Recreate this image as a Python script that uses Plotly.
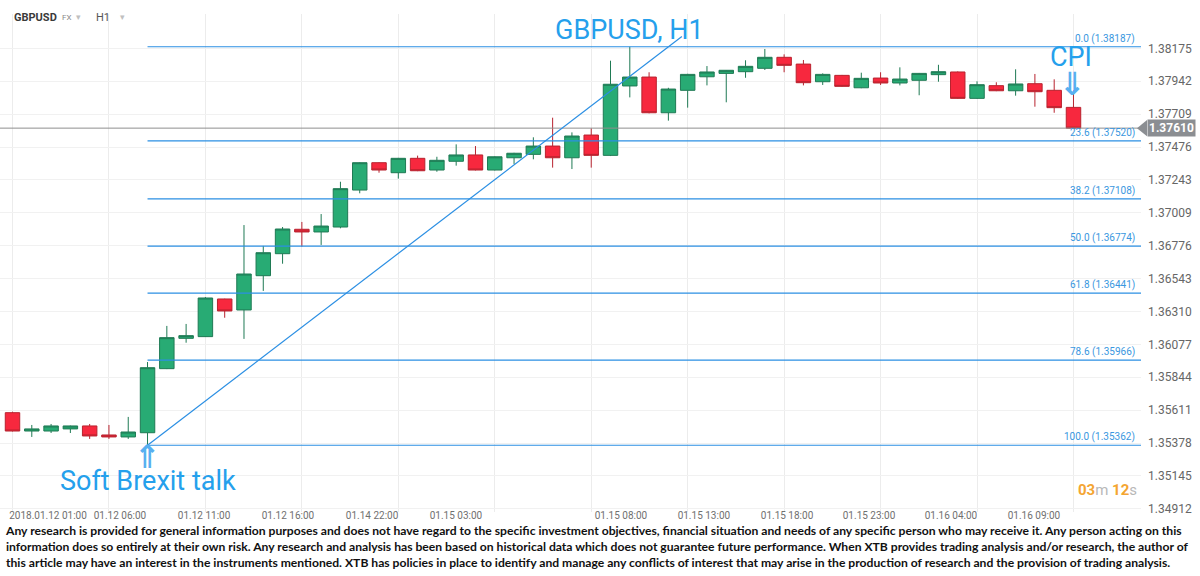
import plotly.graph_objects as go

# ---------------- data ----------------
open_ = [1.35593, 1.35463, 1.35463, 1.35478, 1.35499, 1.35435, 1.35421, 1.35451,
         1.35905, 1.36120, 1.36132, 1.36399, 1.36321, 1.36564, 1.36720, 1.36893,
         1.36874, 1.36909, 1.37171, 1.37365, 1.37294, 1.37396, 1.37313, 1.37375,
         1.37420, 1.37313, 1.37400, 1.37424, 1.37483, 1.37400, 1.37561, 1.37417,
         1.37909, 1.37972, 1.37719, 1.37878, 1.37974, 1.37998, 1.38010, 1.38034,
         1.38112, 1.38064, 1.37939, 1.37984, 1.37896, 1.37965, 1.37930, 1.37949,
         1.37989, 1.38008, 1.37821, 1.37911, 1.37875, 1.37925, 1.37878, 1.37757]
high = [1.35600, 1.35506, 1.35513, 1.35502, 1.35513, 1.35506, 1.35563, 1.35952,
        1.36208, 1.36222, 1.36413, 1.36401, 1.36923, 1.36775, 1.36909, 1.36945,
        1.37001, 1.37230, 1.37368, 1.37368, 1.37399, 1.37415, 1.37407, 1.37495,
        1.37483, 1.37410, 1.37435, 1.37545, 1.37684, 1.37580, 1.37609, 1.38088,
        1.38187, 1.38006, 1.37896, 1.37995, 1.38050, 1.38022, 1.38091, 1.38171,
        1.38133, 1.38093, 1.37998, 1.37987, 1.38003, 1.38006, 1.38041, 1.38001,
        1.38059, 1.38012, 1.37942, 1.37935, 1.38027, 1.37994, 1.37956, 1.37880]
low = [1.35460, 1.35421, 1.35449, 1.35449, 1.35407, 1.35407, 1.35407, 1.35362,
       1.35902, 1.36089, 1.36130, 1.36266, 1.36116, 1.36456, 1.36649, 1.36770,
       1.36782, 1.36900, 1.37148, 1.37294, 1.37252, 1.37305, 1.37301, 1.37344,
       1.37310, 1.37310, 1.37356, 1.37389, 1.37330, 1.37320, 1.37330, 1.37412,
       1.37828, 1.37715, 1.37663, 1.37755, 1.37913, 1.37793, 1.37967, 1.38022,
       1.38006, 1.37913, 1.37916, 1.37903, 1.37893, 1.37916, 1.37913, 1.37843,
       1.37939, 1.37818, 1.37818, 1.37872, 1.37840, 1.37762, 1.37719, 1.37610]
close = [1.35463, 1.35478, 1.35499, 1.35499, 1.35428, 1.35421, 1.35456, 1.35912,
         1.36125, 1.36139, 1.36406, 1.36314, 1.36576, 1.36727, 1.36895, 1.36874,
         1.36916, 1.37181, 1.37365, 1.37313, 1.37396, 1.37308, 1.37382, 1.37420,
         1.37313, 1.37407, 1.37432, 1.37483, 1.37400, 1.37554, 1.37417, 1.37921,
         1.37972, 1.37719, 1.37887, 1.37991, 1.38008, 1.38020, 1.38048, 1.38112,
         1.38055, 1.37932, 1.37991, 1.37906, 1.37963, 1.37930, 1.37958, 1.37998,
         1.38010, 1.37821, 1.37918, 1.37875, 1.37923, 1.37868, 1.37755, 1.37610]
candle_idx = list(range(len(open_)))

x_tick_pos = [1.84, 5.57, 9.93, 14.28, 18.64, 22.99, 31.54, 35.84, 40.15, 44.40, 48.65, 52.95]
x_tick_text = ["2018.01.12 01:00", "01.12 06:00", "01.12 11:00",
               "01.12 16:00", "01.14 22:00", "01.15 03:00",
               "01.15 08:00", "01.15 13:00", "01.15 18:00",
               "01.15 23:00", "01.16 04:00", "01.16 09:00"]
x_grid_pos = [0, 5, 10, 15, 20, 25, 30, 35, 40, 45, 50, 55]

y_ticks = [1.38175, 1.37942, 1.37709, 1.37476, 1.37243, 1.37009, 1.36776, 1.36543,
           1.36310, 1.36077, 1.35844, 1.35611, 1.35378, 1.35145, 1.34912]

fib_ratios = [0.0, 23.6, 38.2, 50.0, 61.8, 78.6, 100.0]
fib_levels = [1.38187, 1.37520, 1.37108, 1.36774, 1.36441, 1.35966, 1.35362]
fib_start = 7

trend_x = [7, 34.7]
trend_y = [1.35362, 1.38260]

last_price = 1.37610

X_RANGE = [-0.648, 58.50]
Y_RANGE = [1.34889, 1.38419]

BLUE_LINE = "#2b8fe3"
BLUE_TEXT = "#25a0ec"

fig = go.Figure()

for lvl in fib_levels:
    fig.add_trace(go.Scatter(x=[fib_start, X_RANGE[1]], y=[lvl, lvl], mode="lines",
                             line=dict(color=BLUE_LINE, width=1.2), hoverinfo="skip",
                             showlegend=False))

fig.add_trace(go.Scatter(x=X_RANGE, y=[last_price, last_price], mode="lines",
                         line=dict(color="#8f8f8f", width=1), hoverinfo="skip", showlegend=False))

fig.add_trace(go.Scatter(x=trend_x, y=trend_y, mode="lines",
                         line=dict(color=BLUE_LINE, width=1.2), hoverinfo="skip", showlegend=False))

fig.add_trace(go.Candlestick(
    x=candle_idx, open=open_, high=high, low=low, close=close,
    increasing=dict(fillcolor="#28ab74", line=dict(color="#1f7a54", width=1)),
    decreasing=dict(fillcolor="#f7283e", line=dict(color="#b8232f", width=1)),
    whiskerwidth=0, showlegend=False))

ann = []
for r, lvl in zip(fib_ratios, fib_levels):
    ann.append(dict(xref="paper", x=1, xshift=-4, xanchor="right", yref="y", y=lvl,
                    yanchor="bottom", yshift=0, text=f"{r:.1f} ({lvl:.5f})", showarrow=False,
                    font=dict(size=10, color="#3a97e0", family="Roboto")))

ann.append(dict(xref="x", x=32.0, yref="y", y=1.38309, text="GBPUSD, H1", showarrow=False,
                xanchor="center", yanchor="middle", font=dict(size=27, color=BLUE_TEXT, family="Roboto")))
ann.append(dict(xref="x", x=54.87, yref="y", y=1.38115, text="CPI", showarrow=False,
                xanchor="center", yanchor="middle", font=dict(size=27, color=BLUE_TEXT, family="Roboto")))
ann.append(dict(xref="x", x=54.97, yref="y", y=1.37922, text="\u21d3", showarrow=False,
                xanchor="center", yanchor="middle",
                font=dict(size=32, color="#58b0f0", family="DejaVu Sans", weight="bold")))
ann.append(dict(xref="x", x=7.0, yref="y", y=1.35112, text="Soft Brexit talk", showarrow=False,
                xanchor="center", yanchor="middle", font=dict(size=27, color=BLUE_TEXT, family="Roboto")))
ann.append(dict(xref="x", x=7.0, yref="y", y=1.35276, text="\u21d1", showarrow=False,
                xanchor="center", yanchor="middle",
                font=dict(size=32, color="#58b0f0", family="DejaVu Sans", weight="bold")))

ann.append(dict(xref="paper", x=1, xshift=6, xanchor="left", yref="y", y=last_price,
                yanchor="middle", text="<b>1.37610</b>", showarrow=False, bgcolor="#8b8e92",
                borderpad=1, font=dict(size=12, color="white", family="Roboto")))

ann.append(dict(xref="paper", x=1, xshift=-2, xanchor="right", yref="y", y=1.35045,
                yanchor="middle", showarrow=False, font=dict(size=15, family="Roboto"),
                text="<span style='color:#f4a531'><b>03</b></span><span style='color:#b8b8b8'>m </span>"
                     "<span style='color:#f4a531'><b>12</b></span><span style='color:#b8b8b8'>s</span>"))

ann.append(dict(xref="paper", x=12 / 1141, xanchor="left", yref="paper", y=0.993, yanchor="middle",
                text="<b>GBPUSD</b>", showarrow=False, font=dict(size=11, color="#3a3a3a", family="Roboto")))
ann.append(dict(xref="paper", x=60 / 1141, xanchor="left", yref="paper", y=0.993, yanchor="middle",
                text="FX", showarrow=False, font=dict(size=8, color="#8a8a8a", family="Roboto")))
ann.append(dict(xref="paper", x=74 / 1141, xanchor="left", yref="paper", y=0.993, yanchor="middle",
                text="\u25be", showarrow=False, font=dict(size=9, color="#c0c0c0", family="DejaVu Sans")))
ann.append(dict(xref="paper", x=94 / 1141, xanchor="left", yref="paper", y=0.993, yanchor="middle",
                text="H1", showarrow=False, font=dict(size=11, color="#555555", family="Roboto")))
ann.append(dict(xref="paper", x=118 / 1141, xanchor="left", yref="paper", y=0.993, yanchor="middle",
                text="\u25be", showarrow=False, font=dict(size=9, color="#c0c0c0", family="DejaVu Sans")))

disclaimer = ("Any research is provided for general information purposes and does not have regard to the specific investment objectives, financial situation and needs of any specific person who may receive it. Any person acting on this<br>"
              "information does so entirely at their own risk. Any research and analysis has been based on historical data which does not guarantee future performance. When XTB provides trading analysis and/or research, the author of<br>"
              "this article may have an interest in the instruments mentioned. XTB has policies in place to identify and manage any conflicts of interest that may arise in the production of research and the provision of trading analysis.")
ann.append(dict(xref="paper", x=0, xshift=3, xanchor="left", yref="paper", y=-0.019, yanchor="top",
                align="left", text=disclaimer, showarrow=False,
                font=dict(size=12.15, color="#111111", family="Lato", weight="bold")))

shapes = [dict(type="path", xref="paper", yref="y",
               path=f"M {1137/1141} {last_price} L {1147/1141} {last_price + 0.00057} L {1147/1141} {last_price - 0.00057} Z",
               fillcolor="#8b8e92", line=dict(width=0))]

fig.update_layout(
    width=1200, height=576,
    margin=dict(l=0, r=59, t=14, b=64),
    paper_bgcolor="white", plot_bgcolor="white",
    showlegend=False,
    boxgap=0.25, boxgroupgap=0,
    annotations=ann, shapes=shapes,
    xaxis=dict(range=X_RANGE, tickmode="array", tickvals=x_tick_pos, ticktext=x_tick_text,
               tickangle=0,
               showgrid=False, zeroline=False, showline=False, ticks="",
               ticklabelstandoff=-4,
               tickfont=dict(size=10, color="#707070", family="Roboto"),
               rangeslider=dict(visible=False), fixedrange=True,
               minor=dict(tickmode="array", tickvals=x_grid_pos, showgrid=True, gridcolor="#ececec", gridwidth=1, ticks="")),
    yaxis=dict(range=Y_RANGE, side="right", tickmode="array", tickvals=y_ticks,
               ticktext=[f"{v:.5f}" for v in y_ticks],
               showgrid=True, gridcolor="#f1f1f1", zeroline=False, showline=False, ticks="",
               ticklabelstandoff=6,
               tickfont=dict(size=12, color="#666666", family="Roboto")),
)

fig.write_html("out.html")
